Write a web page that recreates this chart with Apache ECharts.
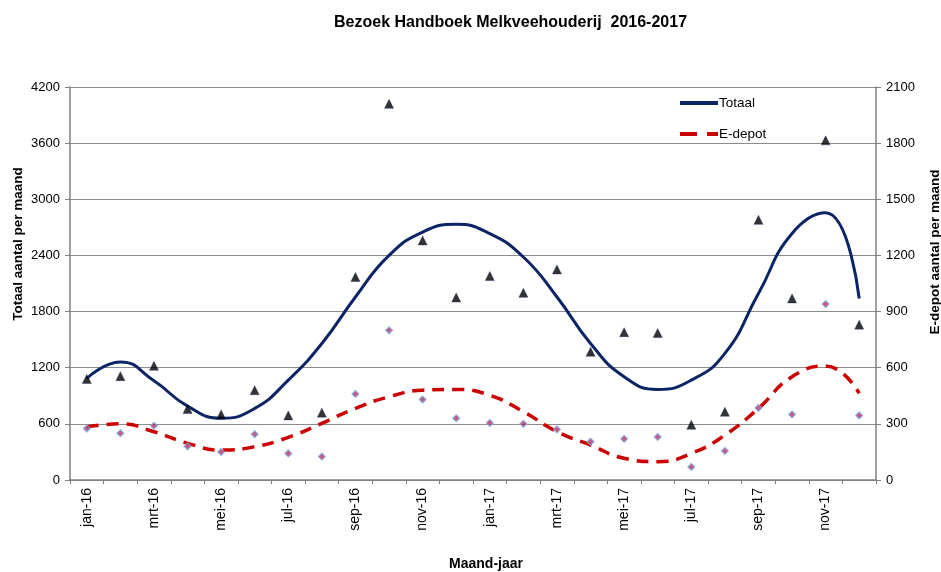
<!DOCTYPE html>
<html>
<head>
<meta charset="utf-8">
<script src="https://cdn.jsdelivr.net/npm/echarts@6/dist/echarts.min.js"></script>
<style>html,body{margin:0;padding:0;background:#fff;overflow:hidden}#c{width:941px;height:572px}</style>
</head>
<body>
<div id="c"></div>
<script>
const months = ['jan-16','feb-16','mrt-16','apr-16','mei-16','jun-16','jul-16','aug-16','sep-16','okt-16','nov-16','dec-16',
                'jan-17','feb-17','mrt-17','apr-17','mei-17','jun-17','jul-17','aug-17','sep-17','okt-17','nov-17','dec-17'];
// monthly visits (left axis)
const totaal = [1080,1110,1220,760,700,960,690,720,2170,4020,2560,1950,2180,2000,2250,1370,1580,1570,590,730,2780,1940,3630,1660];
// E-depot monthly visits (right axis)
const edepot = [275,250,290,180,150,245,142,125,460,800,430,330,305,300,270,205,220,230,70,155,385,350,940,345];
// trendlines
const totaalTrend = [1085,1262,1060,790,660,765,1067,1459,1956,2400,2650,2732,2633,2383,1956,1459,1103,968,1067,1353,1993,2634,2855,1940];
const edepotTrend = [284,300,258,196,160,178,228,303,383,445,480,484,453,365,258,187,116,98,142,240,383,552,609,463];

const chart = echarts.init(document.getElementById('c'));
const font = 'Liberation Sans, Arial, sans-serif';
const plain = v => String(v);
chart.setOption({
  animation: false,
  backgroundColor: '#fff',
  textStyle: {fontFamily: font},
  title: {
    text: 'Bezoek Handboek Melkveehouderij  2016-2017',
    left: 329, top: 10,
    textStyle: {fontSize: 16, fontWeight: 'bold', color: '#000', fontFamily: font}
  },
  graphic: [
    {type: 'text', x: 18, y: 244, rotation: Math.PI / 2,
     style: {text: 'Totaal aantal per maand', font: 'bold 13.5px ' + font, fill: '#000', align: 'center', verticalAlign: 'middle'}},
    {type: 'text', x: 935, y: 252, rotation: Math.PI / 2,
     style: {text: 'E-depot aantal per maand', font: 'bold 13.5px ' + font, fill: '#000', align: 'center', verticalAlign: 'middle'}},
    {type: 'text', x: 486, y: 564,
     style: {text: 'Maand-jaar', font: 'bold 14px ' + font, fill: '#000', align: 'center', verticalAlign: 'middle'}}
  ],
  legend: {
    data: [
      {name: 'Totaal', icon: 'path://M0,0h38v4h-38z'},
      {name: 'E-depot', icon: 'path://M0,0h17v4h-17z M27,0h11v4h-11z'}
    ],
    orient: 'vertical',
    left: 680, top: 96,
    itemWidth: 38, itemHeight: 4, itemGap: 17, padding: 0,
    textStyle: {fontSize: 13.5, color: '#000', fontFamily: font, padding: [0, 0, 0, -4]}
  },
  grid: {left: 70, right: 65, top: 87, bottom: 92, containLabel: false, outerBoundsMode: 'none'},
  xAxis: {
    type: 'category',
    data: months,
    boundaryGap: true,
    axisLine: {lineStyle: {color: '#808080', width: 1.5}},
    axisTick: {show: true, interval: 0, length: 4, lineStyle: {color: '#808080'}},
    axisLabel: {interval: 1, rotate: 90, fontSize: 14, color: '#000', margin: 8},
    splitLine: {show: false}
  },
  yAxis: [
    {
      type: 'value', min: 0, max: 4200, interval: 600,
      axisLine: {show: true, lineStyle: {color: '#808080', width: 1.5}},
      axisTick: {show: true, length: 5, lineStyle: {color: '#808080'}},
      axisLabel: {fontSize: 13, color: '#000', margin: 10, formatter: plain},
      splitLine: {show: true, lineStyle: {color: '#8c8c8c', width: 1}}
    },
    {
      type: 'value', min: 0, max: 2100, interval: 300, position: 'right',
      axisLine: {show: true, lineStyle: {color: '#808080', width: 1.5}},
      axisTick: {show: true, length: 5, lineStyle: {color: '#808080'}},
      axisLabel: {fontSize: 13, color: '#000', margin: 10, formatter: plain},
      splitLine: {show: false}
    }
  ],
  series: [
    {
      name: 'Totaal', type: 'line', yAxisIndex: 0, data: totaalTrend,
      smooth: 0.5, symbol: 'none', z: 3,
      lineStyle: {color: '#0b2466', width: 3},
      itemStyle: {color: '#0b2466'}
    },
    {
      name: 'E-depot', type: 'line', yAxisIndex: 1, data: edepotTrend,
      smooth: 0.5, symbol: 'none', z: 3,
      lineStyle: {color: '#cc0000', width: 3.5, type: [12, 8]},
      itemStyle: {color: '#cc0000'}
    },
    {
      name: 'Totaal punten', type: 'scatter', yAxisIndex: 0, data: totaal,
      symbol: 'triangle', symbolSize: 9, z: 4,
      itemStyle: {color: '#000', borderColor: '#1a2a5a', borderWidth: 0.5}
    },
    {
      name: 'E-depot punten', type: 'scatter', yAxisIndex: 1, data: edepot,
      symbol: 'diamond', symbolSize: 7, z: 4,
      itemStyle: {color: '#b8306a', borderColor: '#7fb2e5', borderWidth: 1.2}
    }
  ]
});
</script>
</body>
</html>
